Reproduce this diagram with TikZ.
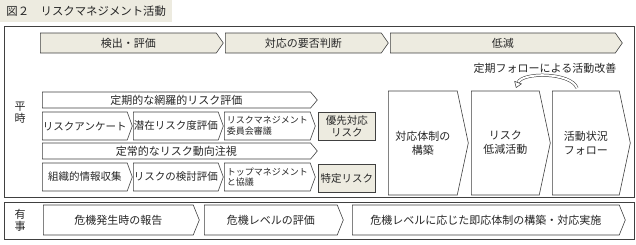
\documentclass[tikz,border=0pt]{standalone}
\usepackage{fontspec}
\setmainfont{Noto Sans CJK JP}
\usepackage{xcolor}
\usetikzlibrary{shapes.symbols,arrows.meta}
\definecolor{beige}{RGB}{237,235,224}

\begin{document}
\begin{tikzpicture}[x=1pt, y=-1pt,
    every node/.style={font=\fontsize{11}{13}\selectfont, text=black!85},
    chev/.style={shape=signal, signal to=east, draw=black!75, fill=white,
                 inner sep=0pt, anchor=west, semithick},
    phase/.style={chev, fill=beige, minimum height=20pt, signal pointer angle=110},
    band/.style={chev, minimum height=16pt, signal pointer angle=100},
    stepbox/.style={chev, minimum height=28pt, minimum width=90pt,
                    signal pointer angle=140, font=\fontsize{10.5}{12}\selectfont},
    tall/.style={chev, minimum height=104pt, signal pointer angle=156, align=center,
                 font=\fontsize{11}{14}\selectfont},
    crisis/.style={chev, minimum height=30pt, signal pointer angle=136},
    result/.style={draw=black!75, fill=beige, inner sep=0pt, anchor=north west,
                   minimum width=57pt, minimum height=28pt, align=center, semithick,
                   font=\fontsize{10.5}{12.5}\selectfont},
    small/.style={font=\fontsize{9}{10.5}\selectfont, align=left},
    frame/.style={draw=black!75, line width=0.9pt},
    cyclearrow/.style={draw=black!80, line width=0.5pt, double=white, double distance=2pt,
                       -{Triangle[open, length=6pt, width=8pt]}},
]
\useasboundingbox (0,0) rectangle (636,244);

% frames
\draw[frame] (4,26) rectangle (634,197);
\draw[frame] (4,202) rectangle (634,239);
\node[fill=beige, anchor=north west, inner sep=0pt, minimum height=22pt, minimum width=172pt,
      font=\fontsize{11.4}{13}\selectfont] (title) at (0,0) {図２　リスクマネジメント活動};

% phases
\node[phase, minimum width=183pt] (detect) at (40,43) {検出・評価};
\node[phase, minimum width=163pt] (judge) at (225,43) {対応の要否判断};
\node[phase, minimum width=232pt] (reduce) at (390,43) {低減};

\node[align=center, font=\fontsize{11}{12}\selectfont] (normal) at (20,113) {平\\時};
\node[align=center, font=\fontsize{11}{12}\selectfont] (emergency) at (20,220) {有\\事};

% periodic / ongoing evaluation rows
\node[band, minimum width=275pt] (periodic) at (42,100) {定期的な網羅的リスク評価};
\node[stepbox] (survey) at (42,126) {リスクアンケート};
\node[stepbox] (latent) at (133,126) {潜在リスク度評価};
\node[stepbox, small, minimum width=91pt] (committee) at (224,126) {リスクマネジメント\\委員会審議};
\node[result] (priority) at (318,112) {優先対応\\リスク};

\node[band, minimum width=275pt] (watch) at (42,151) {定常的なリスク動向注視};
\node[stepbox] (collect) at (42,177) {組織的情報収集};
\node[stepbox] (examine) at (133,177) {リスクの検討評価};
\node[stepbox, small, minimum width=91pt] (topmgmt) at (224,177) {トップマネジメント\\と協議};
\node[result] (specific) at (318,164) {特定リスク};

% reduction
\node[tall, minimum width=80pt] (setup) at (388,143) {対応体制の\\構築};
\node[tall, minimum width=79pt] (activity) at (471,143) {リスク\\低減活動};
\node[tall, minimum width=78pt] (follow) at (552,143) {活動状況\\フォロー};
\node (kaizen) at (545,68) {定期フォローによる活動改善};
\draw[cyclearrow] ([shift={(25,-55)}]follow.west) .. controls +(-6,-16) and +(6,-16)
    .. ([shift={(45,-55)}]activity.west);

% emergency
\node[crisis, minimum width=156pt] (report) at (43,220) {危機発生時の報告};
\node[crisis, minimum width=139pt] (level) at (204,220) {危機レベルの評価};
\node[crisis, minimum width=273pt] (respond) at (352,220) {危機レベルに応じた即応体制の構築・対応実施};
\end{tikzpicture}
\end{document}
